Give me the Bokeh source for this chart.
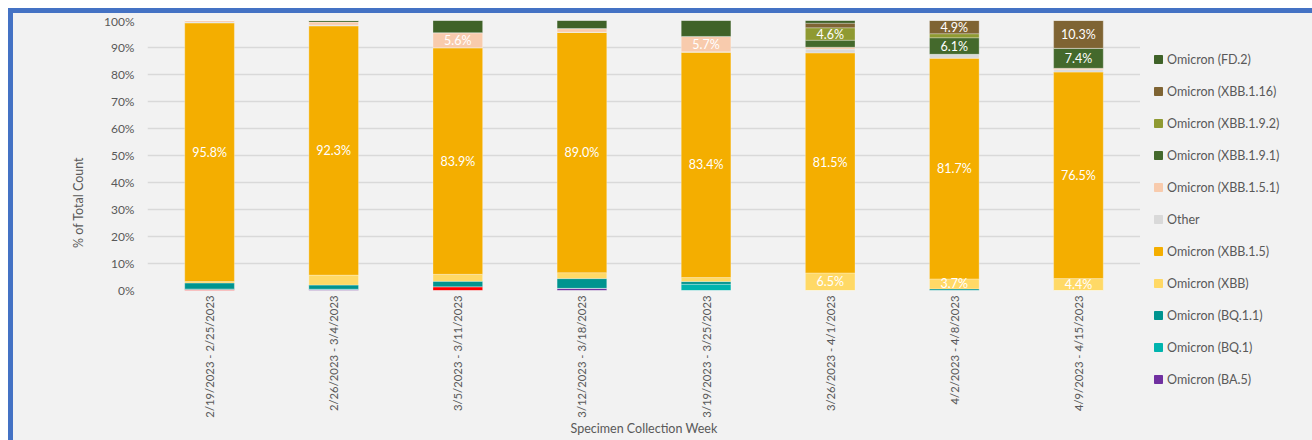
from math import pi
from bokeh.plotting import figure
from bokeh.models import (ColumnDataSource, FactorRange, FixedTicker, Legend,
                          LegendItem, Div, Range1d)
from bokeh.layouts import column, row
from bokeh.embed import file_html
from bokeh.resources import INLINE
from bokeh.core.properties import value

weeks = ["2/19/2023 - 2/25/2023", "2/26/2023 - 3/4/2023", "3/5/2023 - 3/11/2023",
         "3/12/2023 - 3/18/2023", "3/19/2023 - 3/25/2023", "3/26/2023 - 4/1/2023",
         "4/2/2023 - 4/8/2023", "4/9/2023 - 4/15/2023"]

# percentages per week, stacked bottom -> top
ba5 = [0.0, 0.4, 0.0, 0.8, 0.0, 0.0, 0.0, 0.0]
unlisted = [0.4, 0.0, 1.4, 0.0, 0.0, 0.0, 0.0, 0.0]
bq1 = [0.2, 0.1, 0.0, 0.0, 2.3, 0.0, 0.0, 0.0]
bq11 = [2.2, 1.5, 2.0, 3.6, 1.0, 0.0, 0.6, 0.0]
xbb = [0.5, 3.7, 2.6, 2.2, 1.5, 6.5, 3.7, 4.4]
xbb15 = [95.8, 92.3, 83.9, 89.0, 83.4, 81.5, 81.7, 76.5]
other = [0.3, 0.3, 0.0, 0.1, 0.2, 1.4, 1.5, 0.9]
xbb151 = [0.6, 1.1, 5.6, 1.3, 5.7, 0.7, 0.0, 0.5]
xbb191 = [0.0, 0.6, 0.0, 0.0, 0.0, 2.6, 6.1, 7.4]
xbb192 = [0.0, 0.0, 0.0, 0.0, 0.0, 4.6, 1.5, 0.0]
xbb116 = [0.0, 0.0, 0.0, 0.0, 0.0, 1.7, 4.9, 10.3]
fd2 = [0.0, 0.0, 4.5, 3.0, 5.9, 1.0, 0.0, 0.0]

series_keys = ["ba5", "unlisted", "bq1", "bq11", "xbb", "xbb15", "other",
               "xbb151", "xbb191", "xbb192", "xbb116", "fd2"]
series_names = ["Omicron (BA.5)", "Omicron (unlisted)", "Omicron (BQ.1)", "Omicron (BQ.1.1)",
                "Omicron (XBB)", "Omicron (XBB.1.5)", "Other", "Omicron (XBB.1.5.1)",
                "Omicron (XBB.1.9.1)", "Omicron (XBB.1.9.2)", "Omicron (XBB.1.16)",
                "Omicron (FD.2)"]
series_values = [ba5, unlisted, bq1, bq11, xbb, xbb15, other, xbb151, xbb191,
                 xbb192, xbb116, fd2]
colors = ["#7030a0", "#ff0000", "#00b4ae", "#00948f", "#ffd966", "#f4ae00", "#d9d9d9",
          "#f8cbad", "#44692c", "#8f9a32", "#7f6433", "#3f6228"]

# which segments carry a data label: (week index, series key)
labelled = [(0, "xbb15"), (1, "xbb15"), (2, "xbb15"), (2, "xbb151"), (3, "xbb15"),
            (4, "xbb15"), (4, "xbb151"), (5, "xbb"), (5, "xbb15"), (5, "xbb192"),
            (6, "xbb"), (6, "xbb15"), (6, "xbb191"), (6, "xbb116"),
            (7, "xbb"), (7, "xbb15"), (7, "xbb191"), (7, "xbb116")]

data = {"week": weeks}
for k, v in zip(series_keys, series_values):
    data[k] = v
src = ColumnDataSource(data)

FONT = "Lato"
GREY = "#595959"
BG = "#f2f2f2"
BLUE = "#4472c4"

p = figure(x_range=FactorRange(*weeks), y_range=(0, 100), width=1127, height=427,
           output_backend="svg", toolbar_location=None,
           min_border_left=134, min_border_right=0, min_border_top=7,
           min_border_bottom=150)
p.frame_align = False
p.background_fill_color = BG
p.border_fill_color = BG
p.outline_line_color = None

rs = p.vbar_stack(series_keys, x="week", width=0.4, source=src, color=colors,
                  line_color="white", line_alpha=0.35, line_width=0.8)

p.ygrid.grid_line_color = "#d9d9d9"
p.ygrid.grid_line_width = 1.5
p.xgrid.grid_line_color = None
p.yaxis.ticker = FixedTicker(ticks=list(range(0, 101, 10)))
p.yaxis.major_label_overrides = {t: f"{t}%" for t in range(0, 101, 10)}
for ax in (p.xaxis[0], p.yaxis[0]):
    ax.axis_line_color = None
    ax.major_tick_line_color = None
    ax.minor_tick_line_color = None
    ax.major_tick_out = 0
    ax.major_tick_in = 0
    ax.major_label_text_font = FONT
    ax.major_label_text_color = GREY
    ax.axis_label_text_font = FONT
    ax.axis_label_text_font_style = "normal"
    ax.axis_label_text_font_size = "12.5px"
    ax.axis_label_text_color = GREY
    ax.axis_label_text_line_height = 1.0
p.yaxis.major_label_text_font_size = "12px"
p.xaxis.major_label_text_font_size = "11.3px"
p.yaxis.major_label_standoff = 13
p.xaxis.major_label_orientation = pi / 2
p.xaxis.major_label_standoff = 5

p.xaxis.axis_label = "Specimen Collection Week"
p.xaxis.axis_label_standoff = 0
# trailing em spaces shift the visible title downwards, as in the original
p.yaxis.axis_label = "% of Total Count" + "\u2003" * 10
p.yaxis.axis_label_standoff = 15

# data labels
lx, ly, lt = [], [], []
for wi, key in labelled:
    si = series_keys.index(key)
    base = sum(series_values[j][wi] for j in range(si))
    v = series_values[si][wi]
    lx.append(weeks[wi])
    ly.append(base + v / 2)
    lt.append(f"{v:.1f}%")
p.text(x=lx, y=ly, text=lt, text_color="white", text_font=value(FONT),
       text_font_size="12.5px", text_align="center", text_baseline="middle")

# legend lives in a narrow companion figure to the right of the chart
lf = figure(width=172, height=427, x_range=Range1d(0, 1), y_range=Range1d(0, 1),
            output_backend="svg", toolbar_location=None, x_axis_type=None,
            y_axis_type=None, min_border=0)
lf.frame_align = False
lf.background_fill_color = BG
lf.border_fill_color = BG
lf.outline_line_color = None
lf.grid.visible = False

items = []
for k, name, c in reversed(list(zip(series_keys, series_names, colors))):
    if k == "unlisted":
        continue
    # swatch renderer placed outside the visible range; only its legend glyph shows
    r = lf.vbar(x=[5], top=[5], width=0.1, color=c)
    items.append(LegendItem(label=name, renderers=[r]))
legend = Legend(items=items, location=(13, 51), padding=0, margin=0,
                spacing=12, label_height=20, glyph_height=10, glyph_width=10,
                label_standoff=4, label_text_font=FONT, label_text_font_size="12.5px",
                label_text_color=GREY, border_line_color=None,
                background_fill_alpha=0)
lf.add_layout(legend, "center")

def bar(w, h, c):
    return Div(text="", width=w, height=h, margin=0, styles={"background-color": c})

chart_row = row(bar(5, 427, BLUE), p, lf, spacing=0,
                styles={"background-color": BG})
inner = column(bar(1304, 5, BLUE), chart_row, spacing=0,
               styles={"background-color": BG})
layout = column(bar(1312, 8, "white"), row(bar(8, 432, "white"), inner, spacing=0),
                spacing=0)

open("out.html", "w").write(file_html(layout, INLINE))
